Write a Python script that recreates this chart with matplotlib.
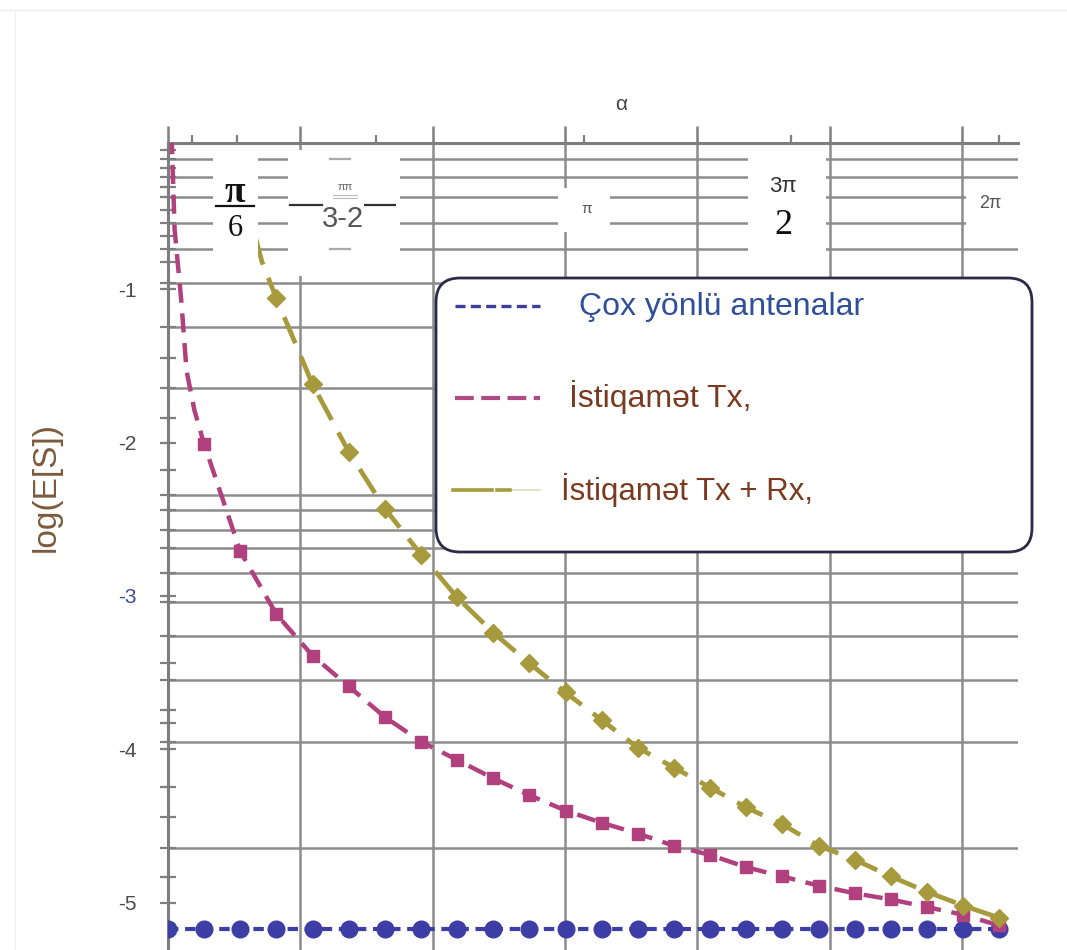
import numpy as np
import matplotlib.pyplot as plt
from matplotlib.patches import FancyBboxPatch, Rectangle

plt.rcParams['font.family'] = ['Liberation Sans', 'DejaVu Sans']

# angle samples (rad), markers are spaced evenly over [0, 2pi]
alpha = np.linspace(0, 2 * np.pi, 24)

# omnidirectional antennas
omni = [-5.17, -5.17, -5.17, -5.17, -5.17, -5.17, -5.17, -5.17,
        -5.17, -5.17, -5.17, -5.17, -5.17, -5.17, -5.17, -5.17,
        -5.17, -5.17, -5.17, -5.17, -5.17, -5.17, -5.17, -5.17]

# directional Tx (markers from the 2nd sample on)
tx = [-2.01, -2.71, -3.12, -3.39, -3.59, -3.79, -3.95, -4.07, -4.19, -4.30,
      -4.40, -4.48, -4.55, -4.63, -4.69, -4.77, -4.83, -4.89, -4.94, -4.98,
      -5.03, -5.08, -5.15]
# steep start of the Tx curve
tx_lead_x = [0.02, 0.05, 0.10, 0.14, 0.20]
tx_lead_y = [0.20, -0.61, -1.07, -1.53, -1.79]

# directional Tx + Rx (markers from the 3rd sample on)
txrx = [-0.29, -1.06, -1.62, -2.06, -2.43, -2.73, -3.01, -3.24, -3.44, -3.63,
        -3.81, -3.99, -4.12, -4.25, -4.38, -4.49, -4.63, -4.72, -4.83, -4.93,
        -5.02, -5.10]
# extra points traced on the Tx + Rx curve near its start
txrx_trace_x = [0.45, 0.71]
txrx_trace_y = [0.15, -0.82]

ytick_vals = [-1, -2, -3, -4, -5]
ytick_labels = ['-1', '-2', '-3', '-4', '-5']

c_omni = '#3d3da6'
c_tx = '#b0407e'
c_txrx = '#a69a3c'
c_grid = '#8c8c8c'

W, H = 1067, 950
fig = plt.figure(figsize=(W / 100, H / 100), dpi=100)
fig.patch.set_facecolor('white')


def py2y(p):
    # picture row -> value on the log axis
    return (136 - p) / 153.3


ax = fig.add_axes([168 / W, 0, 850 / W, 807 / H])
ax.set_xlim(0, 850 / 132.3)
ax.set_ylim(py2y(950), py2y(143))
ax.set_facecolor('none')

for s in ['right', 'bottom']:
    ax.spines[s].set_visible(False)
for s in ['left', 'top']:
    ax.spines[s].set_color('#7d7d7d')
    ax.spines[s].set_linewidth(2.2)

# top axis: integer-radian gridlines + minor ticks at the marked angles
ax.xaxis.tick_top()
ax.set_xticks(range(0, 7))
ax.set_xticks([0.18, np.pi / 6, np.pi / 2, np.pi, 1.5 * np.pi, 2 * np.pi], minor=True)
ax.tick_params(axis='x', which='major', direction='out', length=12, width=1.8,
               color='#7f7f7f', labeltop=False, labelbottom=False, bottom=False)
ax.tick_params(axis='x', which='minor', direction='out', length=6, width=1.6,
               color='#7f7f7f', bottom=False)
ax.grid(axis='x', which='major', color=c_grid, lw=1.8, zorder=0)

# irregular horizontal grid as it is in the picture
hgrid_px = [159, 177, 197, 223, 249, 283, 327, 388, 495, 510, 530, 548,
            573, 602, 636, 680, 742, 848]
ax.hlines([py2y(p) for p in hgrid_px], 0, 1, transform=ax.get_yaxis_transform(),
          color=c_grid, lw=1.8, zorder=0.5)

small_tick_px = [150, 168, 187, 210, 236, 262, 358, 418, 470,
                 663, 710, 723, 787, 817, 877]
ax.set_yticks(ytick_vals)
ax.set_yticklabels(ytick_labels)
ax.set_yticks([py2y(p) for p in hgrid_px + small_tick_px], minor=True)
ax.tick_params(axis='y', which='both', direction='inout', length=11, width=1.6,
               color='#7f7f7f')
ax.tick_params(axis='y', which='major', labelsize=15, labelcolor='#4a4a4a', pad=17)
ax.get_yticklabels()[2].set_color('#3a4f95')

# data
ax.plot(alpha, omni, color=c_omni, lw=3, dashes=(2.5, 1.6), zorder=3,
        marker='o', ms=12, mec=c_omni, mfc=c_omni)
ax.plot(tx_lead_x + list(alpha[1:]), tx_lead_y + tx, color=c_tx, lw=3.2,
        dashes=(4.3, 2.4), zorder=3)
ax.plot(alpha[1:], tx, ls='none', marker='s', ms=8, color=c_tx, zorder=3)
txrx_pts = sorted(zip(txrx_trace_x + list(alpha[2:]), txrx_trace_y + txrx))
ax.plot([p[0] for p in txrx_pts], [p[1] for p in txrx_pts], color=c_txrx, lw=3.4,
        dashes=(6.0, 3.0), zorder=3)
ax.plot(alpha[2:], txrx, ls='none', marker='D', ms=9, color=c_txrx, zorder=3)

# overlay in picture pixels for labels, white patches and the legend box
ov = fig.add_axes([0, 0, 1, 1], zorder=5)
ov.set_xlim(0, W)
ov.set_ylim(H, 0)
ov.axis('off')
ov.patch.set_alpha(0)

ov.plot([0, W], [10, 10], color='#ececec', lw=1)
ov.plot([15, 15], [10, H], color='#f0f0f0', lw=1)

for x0, y0, x1, y1 in [(213, 150, 258, 262), (288, 150, 400, 276),
                       (558, 188, 610, 232), (748, 150, 826, 258),
                       (966, 188, 1020, 232)]:
    ov.add_patch(Rectangle((x0, y0), x1 - x0, y1 - y0, facecolor='white',
                           edgecolor='none'))

serif = 'Liberation Serif'
ov.text(235, 193, 'π', ha='center', va='center', fontsize=27, family=serif,
        fontweight='bold', color='#111111')
ov.plot([216, 254], [206, 206], color='#111111', lw=1.6)
ov.text(235, 229, '6', ha='center', va='center', fontsize=22, family=serif,
        color='#111111')

ov.plot([290, 322], [205, 205], color='#333333', lw=1.6)
ov.plot([365, 395], [205, 205], color='#333333', lw=1.6)
ov.plot([330, 350], [159, 159], color='#aaaaaa', lw=1.6)
ov.plot([330, 350], [249, 249], color='#aaaaaa', lw=1.6)
ov.text(345, 187, 'ππ', ha='center', va='center', fontsize=8, color='#666666')
ov.plot([333, 357], [195, 195], color='#bbbbbb', lw=0.8)
ov.plot([333, 357], [197.5, 197.5], color='#bbbbbb', lw=0.8)
ov.text(343, 219, '3-2', ha='center', va='center', fontsize=21, color='#555555')

ov.text(587, 209, 'π', ha='center', va='center', fontsize=11, color='#555555')
ov.text(783, 186, '3π', ha='center', va='center', fontsize=16, color='#333333')
ov.text(783, 226, '2', ha='center', va='center', fontsize=26, family=serif,
        color='#111111')
ov.text(990, 204, '2π', ha='center', va='center', fontsize=13, color='#555555')

ov.text(621, 104, 'α', ha='center', va='center', fontsize=15, color='#444444')
ov.text(46, 487, 'log(E[S])', ha='center', va='center', rotation=90,
        fontsize=24, color='#7b5a3c')

# legend box
ov.add_patch(FancyBboxPatch((436, 278), 596, 274,
                            boxstyle='round,pad=0,rounding_size=24',
                            facecolor='white', edgecolor='#2b2b48', lw=2))
ov.plot([455, 540], [306, 306], color='#3d3d9a', lw=2.4, dashes=(3, 1.6))
ov.text(579, 307, 'Çox yönlü antenalar', ha='left', va='center', fontsize=23,
        color='#2f4f9a')
ov.plot([455, 540], [398, 398], color='#b04a85', lw=3, dashes=(4.5, 1.8))
ov.text(569, 397, 'İstiqamət Tx,', ha='left', va='center', fontsize=23,
        color='#7a3a20')
ov.plot([453, 492], [490, 490], color=c_txrx, lw=2.6)
ov.plot([497, 510], [490, 490], color=c_txrx, lw=2.6)
ov.plot([513, 540], [490, 490], color='#e4e2cf', lw=1.5)
ov.text(561, 490, 'İstiqamət Tx + Rx,', ha='left', va='center', fontsize=22.5,
        color='#7a3a20')

fig.savefig('out.png', dpi=100)
